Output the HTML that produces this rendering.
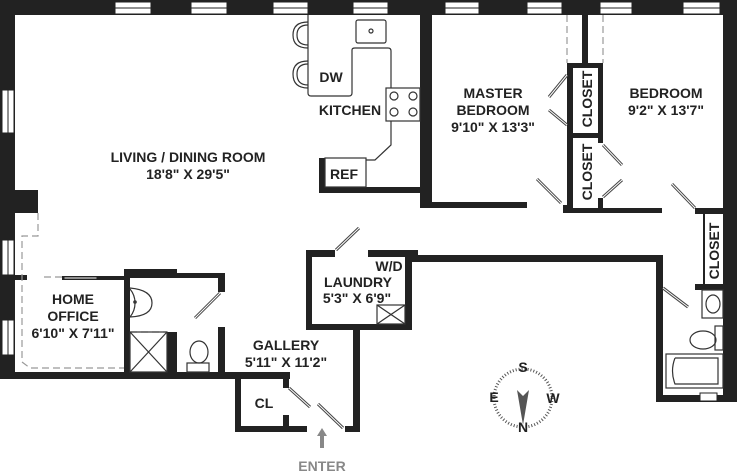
<!DOCTYPE html>
<html><head><meta charset="utf-8"><style>
html,body{margin:0;padding:0;background:#fff}
svg{display:block}
text{font-family:"Liberation Sans",sans-serif;font-weight:bold;fill:#222;font-size:14px;text-anchor:middle}
</style></head><body>
<svg width="737" height="474" viewBox="0 0 737 474" xmlns="http://www.w3.org/2000/svg">
<g fill="#222">
<rect x="0" y="0" width="737" height="15"/>
<rect x="0" y="0" width="15" height="378"/>
<rect x="0" y="190" width="38" height="23"/>
<rect x="420" y="15" width="12" height="193"/>
<rect x="420" y="202" width="107" height="6"/>
<rect x="582" y="15" width="6" height="48"/>
<rect x="567" y="63" width="6" height="150"/>
<rect x="567" y="63" width="36" height="5"/>
<rect x="598" y="63" width="5" height="80"/>
<rect x="567" y="133" width="36" height="5"/>
<rect x="598" y="198" width="5" height="15"/>
<rect x="563" y="205" width="10" height="8"/>
<rect x="567" y="208" width="95" height="5"/>
<rect x="723" y="0" width="14" height="402"/>
<rect x="695" y="208" width="30" height="6"/>
<rect x="703" y="214" width="2" height="70"/>
<rect x="695" y="284" width="30" height="6"/>
<rect x="410" y="255" width="253" height="7"/>
<rect x="656" y="255" width="7" height="147"/>
<rect x="656" y="395" width="81" height="7"/>
<rect x="319" y="158" width="6" height="35"/>
<rect x="319" y="187" width="102" height="6"/>
<rect x="306" y="250" width="6" height="80"/>
<rect x="306" y="250" width="29" height="7"/>
<rect x="368" y="250" width="50" height="7"/>
<rect x="405" y="250" width="7" height="80"/>
<rect x="306" y="324" width="106" height="6"/>
<rect x="353" y="324" width="7" height="108"/>
<rect x="345" y="426" width="15" height="6"/>
<rect x="15" y="275" width="12" height="5"/>
<rect x="62" y="276" width="62" height="4"/>
<rect x="124" y="270" width="6" height="108"/>
<rect x="124" y="269" width="53" height="8"/>
<rect x="124" y="273" width="101" height="5"/>
<rect x="218" y="273" width="7" height="19"/>
<rect x="218" y="327" width="7" height="50"/>
<rect x="167" y="332" width="10" height="42"/>
<rect x="0" y="372" width="290" height="7"/>
<rect x="235" y="372" width="6" height="60"/>
<rect x="235" y="426" width="72" height="6"/>
<rect x="283" y="372" width="6" height="16"/>
<rect x="283" y="415" width="6" height="17"/>
</g>
<g fill="#fff" stroke="#222" stroke-width="1">
<rect x="115" y="2" width="36" height="12"/><rect x="191" y="2" width="36" height="12"/>
<rect x="273" y="2" width="35" height="12"/><rect x="353" y="2" width="35" height="12"/>
<rect x="445" y="2" width="34" height="12"/><rect x="527" y="2" width="35" height="12"/>
<rect x="600" y="2" width="32" height="12"/><rect x="683" y="2" width="37" height="12"/>
<rect x="2" y="90" width="12" height="43"/><rect x="2" y="240" width="12" height="35"/>
<rect x="2" y="320" width="12" height="35"/><rect x="700" y="393" width="17" height="8"/>
<rect x="64" y="277" width="33" height="2"/>
</g>
<g stroke="#222" stroke-width="1">
<line x1="115" y1="8" x2="151" y2="8"/><line x1="191" y1="8" x2="227" y2="8"/>
<line x1="273" y1="8" x2="308" y2="8"/><line x1="353" y1="8" x2="388" y2="8"/>
<line x1="445" y1="8" x2="479" y2="8"/><line x1="527" y1="8" x2="562" y2="8"/>
<line x1="600" y1="8" x2="632" y2="8"/><line x1="683" y1="8" x2="720" y2="8"/>
<line x1="8" y1="90" x2="8" y2="133"/><line x1="8" y1="240" x2="8" y2="275"/><line x1="8" y1="320" x2="8" y2="355"/>
</g>
<g fill="none" stroke="#999" stroke-width="1.2" stroke-dasharray="7,4">
<polyline points="38,213 38,236 22,236 22,362 30,368 124,368"/>
<line x1="44" y1="277" x2="62" y2="277"/>
<line x1="130" y1="332" x2="167" y2="332"/>
<line x1="567" y1="15" x2="567" y2="63"/><line x1="603" y1="15" x2="603" y2="63"/>
</g>
<g fill="none" stroke="#333" stroke-width="1.2">
<path d="M308,15 L308,93 Q308,96 311,96 L349,96 Q352,96 352,93 L352,50 Q352,48 355,48 L388,48 Q391,48 391,51 L391,145 L375,160 L366,160"/>
<rect x="356" y="20" width="30" height="23" rx="2"/>
<circle cx="371" cy="31" r="2"/>
<path d="M308,22 Q293,22 293,35 Q293,48 308,48"/><path d="M308,25 Q297,25 297,35 Q297,45 308,45"/>
<path d="M308,61 Q293,61 293,74 Q293,88 308,88"/><path d="M308,64 Q297,64 297,74 Q297,85 308,85"/>
<rect x="386" y="88" width="34" height="33" fill="#fff"/>
<circle cx="394" cy="96" r="4"/><circle cx="413" cy="96" r="4"/><circle cx="394" cy="112" r="4"/><circle cx="413" cy="112" r="4"/>
<rect x="325" y="158" width="41" height="29"/>
<path d="M130,289 A22,22 0 0 1 130,317 M130,288 Q152,290 152,303 Q152,316 130,317"/>
<circle cx="135" cy="302" r="1.2"/>
<rect x="130" y="332" width="37" height="40"/><line x1="130" y1="332" x2="167" y2="372"/><line x1="167" y1="332" x2="130" y2="372"/>
<ellipse cx="199" cy="352" rx="9" ry="11"/><rect x="187" y="363" width="22" height="9"/>
<rect x="377" y="305" width="28" height="19"/><line x1="377" y1="305" x2="405" y2="324"/><line x1="405" y1="305" x2="377" y2="324"/>
<rect x="702" y="290" width="21" height="28"/><ellipse cx="713" cy="304" rx="7" ry="9"/>
<rect x="715" y="326" width="8" height="24"/><ellipse cx="703" cy="340" rx="13" ry="9"/>
<rect x="666" y="354" width="57" height="34"/><path d="M675,358 L718,358 L718,384 L675,384 Q670,371 675,358"/>
</g>
<g stroke="#444" stroke-width="3" fill="none">
<line x1="336" y1="250" x2="359" y2="228"/>
<line x1="195" y1="318" x2="220" y2="293"/>
<line x1="289" y1="388" x2="310" y2="407"/>
<line x1="318" y1="404" x2="343" y2="428"/>
<line x1="567" y1="75" x2="549" y2="97"/><line x1="567" y1="125" x2="549" y2="110"/>
<line x1="537" y1="179" x2="561" y2="203"/>
<line x1="603" y1="145" x2="622" y2="165"/><line x1="603" y1="197" x2="622" y2="180"/>
<line x1="672" y1="184" x2="695" y2="208"/>
<line x1="663" y1="288" x2="688" y2="307"/>
</g>
<g stroke="#fff" stroke-width="1" fill="none">
<line x1="336" y1="250" x2="359" y2="228"/><line x1="195" y1="318" x2="220" y2="293"/>
<line x1="289" y1="388" x2="310" y2="407"/><line x1="318" y1="404" x2="343" y2="428"/>
<line x1="567" y1="75" x2="549" y2="97"/><line x1="567" y1="125" x2="549" y2="110"/>
<line x1="537" y1="179" x2="561" y2="203"/><line x1="603" y1="145" x2="622" y2="165"/>
<line x1="603" y1="197" x2="622" y2="180"/><line x1="672" y1="184" x2="695" y2="208"/>
<line x1="663" y1="288" x2="688" y2="307"/>
</g>
<circle cx="523" cy="398" r="29" fill="none" stroke="#555" stroke-width="3" stroke-dasharray="1,2"/>
<polygon points="517,390 523,396 529,390 523,425" fill="#555"/>
<g style="font-size:11px"><text x="523" y="372">S</text><text x="523" y="432">N</text><text x="494" y="402">E</text><text x="553" y="403">W</text></g>
<polygon points="322,428 327,436 324,436 324,448 320,448 320,436 317,436" fill="#888"/>
<text x="322" y="471" style="fill:#888">ENTER</text>
<text x="188" y="162">LIVING / DINING ROOM</text><text x="188" y="179">18'8" X 29'5"</text>
<text x="331" y="82">DW</text><text x="350" y="115">KITCHEN</text><text x="344" y="179">REF</text>
<text x="493" y="98">MASTER</text><text x="493" y="115">BEDROOM</text><text x="493" y="132">9'10" X 13'3"</text>
<text x="666" y="98">BEDROOM</text><text x="666" y="115">9'2" X 13'7"</text>
<text transform="translate(592,99) rotate(-90)">CLOSET</text>
<text transform="translate(592,172) rotate(-90)">CLOSET</text>
<text transform="translate(719,251) rotate(-90)">CLOSET</text>
<text x="73" y="304">HOME</text><text x="73" y="321">OFFICE</text><text x="73" y="338">6'10" X 7'11"</text>
<text x="389" y="271">W/D</text><text x="358" y="287">LAUNDRY</text><text x="357" y="303">5'3" X 6'9"</text>
<text x="286" y="350">GALLERY</text><text x="286" y="367">5'11" X 11'2"</text>
<text x="264" y="408">CL</text>
</svg>
</body></html>
